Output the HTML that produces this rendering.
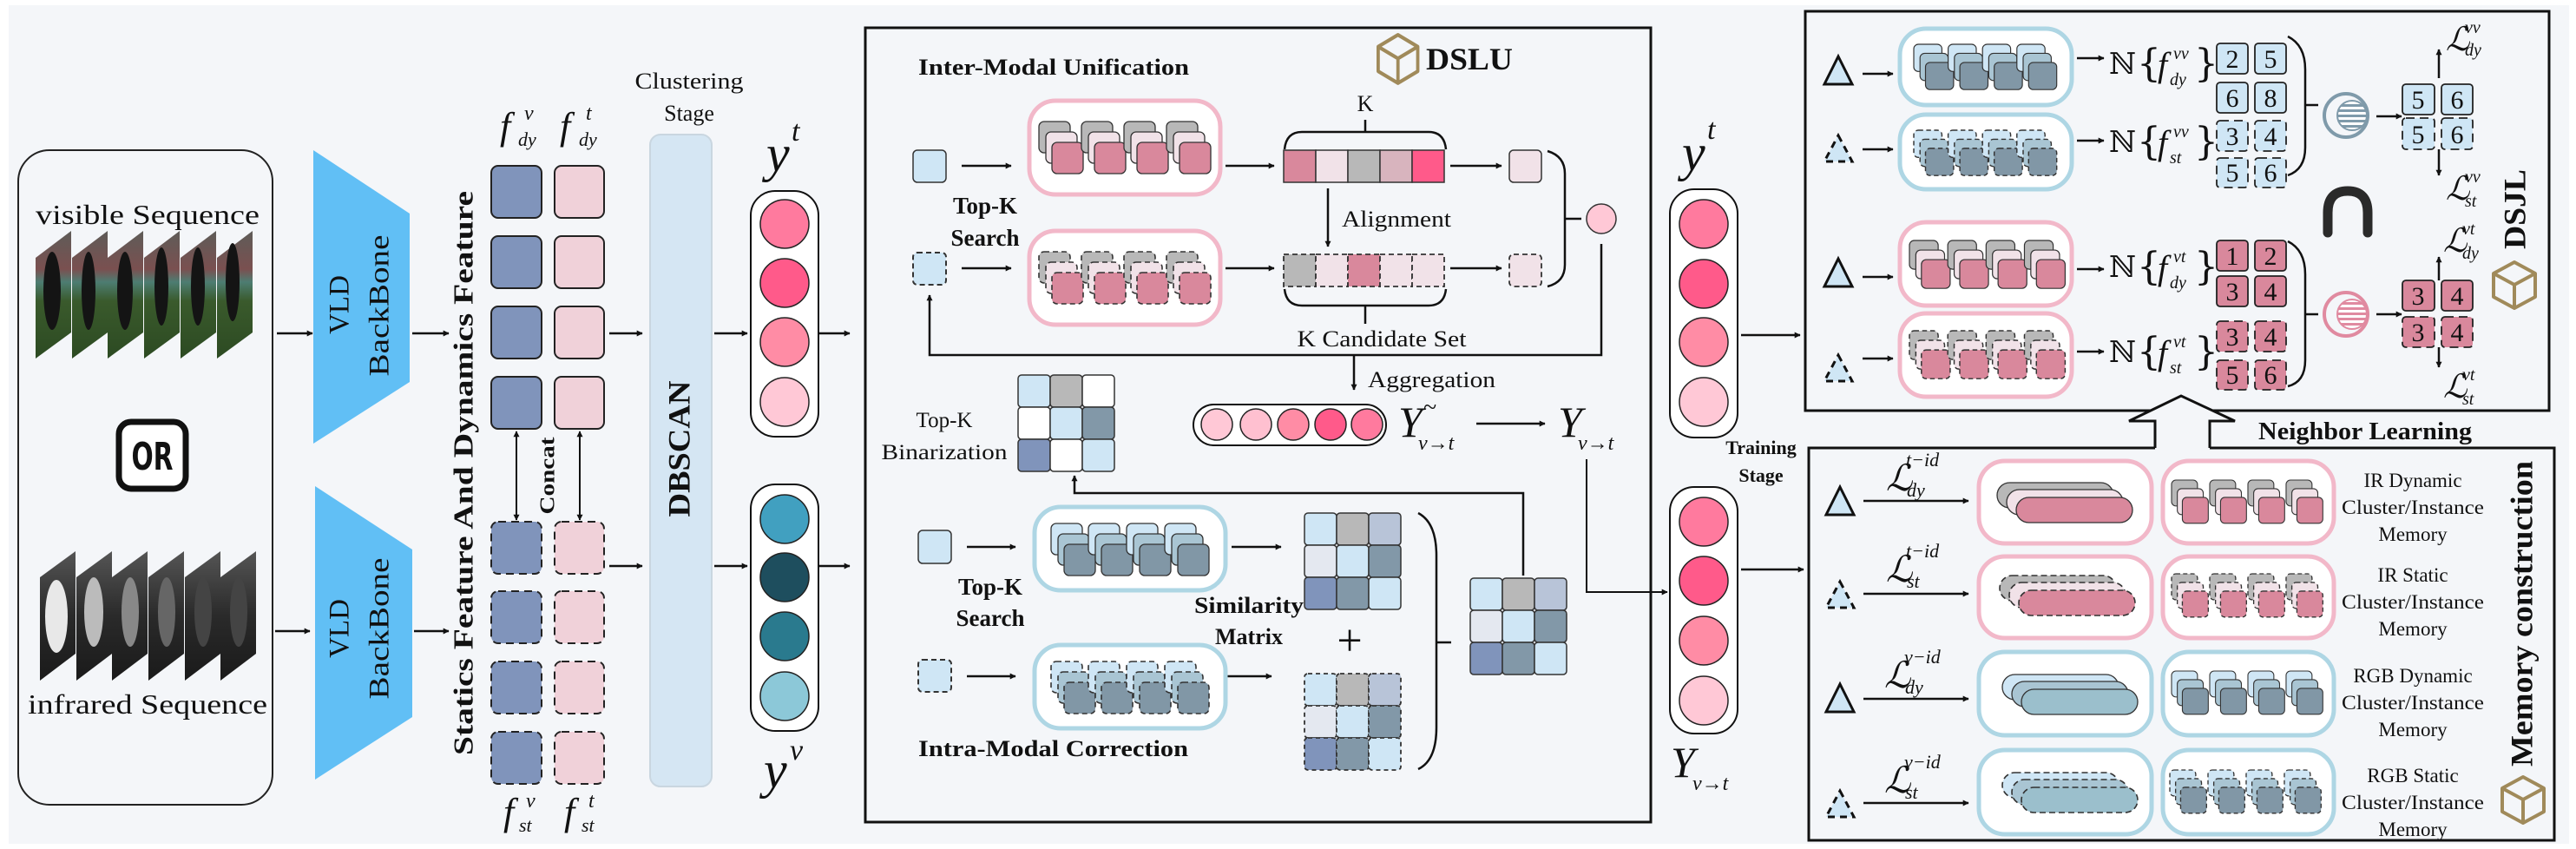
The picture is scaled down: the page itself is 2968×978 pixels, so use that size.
<!DOCTYPE html>
<html><head><meta charset="utf-8">
<style>
html,body{margin:0;padding:0;background:#f4f6f9;}
svg{display:block;}
text{font-family:"Liberation Serif","DejaVu Serif",serif;fill:#111;}
.b{font-weight:bold;}
.i{font-style:italic;}
.sym{font-family:"DejaVu Serif","Liberation Serif",serif;}
</style></head><body>
<svg width="2968" height="978" viewBox="0 0 2968 978" xmlns="http://www.w3.org/2000/svg">
<defs>
<marker id="ar" viewBox="0 0 10 10" refX="9" refY="5" markerWidth="7" markerHeight="7" orient="auto-start-reverse" markerUnits="userSpaceOnUse">
<path d="M0,0 L10,5 L0,10 z" fill="#111"/></marker>
<linearGradient id="gv" x1="0" y1="0" x2="0" y2="1"><stop offset="0" stop-color="#5e5c58"/><stop offset="0.3" stop-color="#7a5050"/><stop offset="0.4" stop-color="#4d7d72"/><stop offset="0.55" stop-color="#3a5a2c"/><stop offset="1" stop-color="#2c4a22"/></linearGradient>
<linearGradient id="gi" x1="0" y1="0" x2="0" y2="1"><stop offset="0" stop-color="#555"/><stop offset="0.5" stop-color="#2a2a2a"/><stop offset="1" stop-color="#1a1a1a"/></linearGradient>
<pattern id="stB" width="6" height="6" patternUnits="userSpaceOnUse"><rect width="6" height="6" fill="#fff"/><rect width="6" height="3" fill="#7f9aaa"/></pattern>
<pattern id="stP" width="6" height="6" patternUnits="userSpaceOnUse"><rect width="6" height="6" fill="#fff"/><rect width="6" height="3" fill="#e08aa0"/></pattern>
<g id="pg"><rect x="0" y="0" width="36" height="36" rx="6" fill="#b8b8b8" stroke="#333" stroke-width="1.3"/><rect x="8" y="12" width="36" height="36" rx="6" fill="#f1e2e8" stroke="#333" stroke-width="1.3"/><rect x="15" y="24" width="36" height="36" rx="6" fill="#d9889c" stroke="#333" stroke-width="1.3"/></g>
<g id="pgd" stroke-dasharray="6 4"><rect x="0" y="0" width="36" height="36" rx="6" fill="#b8b8b8" stroke="#333" stroke-width="1.6"/><rect x="8" y="12" width="36" height="36" rx="6" fill="#f1e2e8" stroke="#333" stroke-width="1.6"/><rect x="15" y="24" width="36" height="36" rx="6" fill="#d9889c" stroke="#333" stroke-width="1.6"/></g>
<g id="bgp"><rect x="0" y="0" width="36" height="36" rx="6" fill="#cfe6f5" stroke="#333" stroke-width="1.3"/><rect x="8" y="12" width="36" height="36" rx="6" fill="#a9c5d3" stroke="#333" stroke-width="1.3"/><rect x="15" y="24" width="36" height="36" rx="6" fill="#8197a6" stroke="#333" stroke-width="1.3"/></g>
<g id="bgd" stroke-dasharray="6 4"><rect x="0" y="0" width="36" height="36" rx="6" fill="#cfe6f5" stroke="#333" stroke-width="1.6"/><rect x="8" y="12" width="36" height="36" rx="6" fill="#a9c5d3" stroke="#333" stroke-width="1.6"/><rect x="15" y="24" width="36" height="36" rx="6" fill="#8197a6" stroke="#333" stroke-width="1.6"/></g>
<g id="ppl"><rect x="0" y="0" width="134" height="29" rx="14.5" fill="#b8b8b8" stroke="#333" stroke-width="1.3"/><rect x="11" y="8" width="134" height="29" rx="14.5" fill="#f1e2e8" stroke="#333" stroke-width="1.3"/><rect x="22" y="17" width="134" height="29" rx="14.5" fill="#d9889c" stroke="#333" stroke-width="1.3"/></g>
<g id="ppld" stroke-dasharray="7 4"><rect x="0" y="0" width="134" height="29" rx="14.5" fill="#b8b8b8" stroke="#333" stroke-width="1.6"/><rect x="11" y="8" width="134" height="29" rx="14.5" fill="#f1e2e8" stroke="#333" stroke-width="1.6"/><rect x="22" y="17" width="134" height="29" rx="14.5" fill="#d9889c" stroke="#333" stroke-width="1.6"/></g>
<g id="bpl"><rect x="0" y="0" width="134" height="29" rx="14.5" fill="#cfe6f5" stroke="#333" stroke-width="1.3"/><rect x="11" y="8" width="134" height="29" rx="14.5" fill="#a9c5d3" stroke="#333" stroke-width="1.3"/><rect x="22" y="17" width="134" height="29" rx="14.5" fill="#9bbfcc" stroke="#333" stroke-width="1.3"/></g>
<g id="bpld" stroke-dasharray="7 4"><rect x="0" y="0" width="134" height="29" rx="14.5" fill="#cfe6f5" stroke="#333" stroke-width="1.6"/><rect x="11" y="8" width="134" height="29" rx="14.5" fill="#a9c5d3" stroke="#333" stroke-width="1.6"/><rect x="22" y="17" width="134" height="29" rx="14.5" fill="#9bbfcc" stroke="#333" stroke-width="1.6"/></g>
<g id="tri"><path d="M16,0 L32,32 L0,32 Z" fill="#cfe6f5" stroke="#111" stroke-width="3"/></g>
<g id="trid"><path d="M16,0 L32,30 L0,30 Z" fill="#cfe6f5" stroke="#111" stroke-width="3" stroke-dasharray="8 6"/></g>
<g id="cube"><path d="M26,2 L50,15 L50,42 L26,55 L2,42 L2,15 Z M2,15 L26,28 L50,15 M26,28 L26,55" fill="none" stroke="#a08a5a" stroke-width="4" stroke-linejoin="round"/></g>
</defs>

<rect x="0" y="0" width="2968" height="978" fill="#fff"/>
<rect x="10" y="6" width="2950" height="966" fill="#f4f6f9"/>

<rect x="21" y="173" width="293" height="754" rx="36" fill="none" stroke="#222" stroke-width="2"/>
<text x="170" y="258" font-size="32" text-anchor="middle" textLength="258" lengthAdjust="spacingAndGlyphs">visible Sequence</text>
<g>
<path d="M41,297 L82,266 L82,383 L41,413 Z" fill="url(#gv)"/>
<path d="M83,297 L124,266 L124,383 L83,413 Z" fill="url(#gv)"/>
<path d="M124,297 L165,266 L165,383 L124,413 Z" fill="url(#gv)"/>
<path d="M166,297 L207,266 L207,383 L166,413 Z" fill="url(#gv)"/>
<path d="M208,297 L249,266 L249,383 L208,413 Z" fill="url(#gv)"/>
<path d="M250,297 L291,266 L291,383 L250,413 Z" fill="url(#gv)"/>
<g fill="#141414"><ellipse cx="60" cy="335" rx="10" ry="45"/><ellipse cx="102" cy="335" rx="8" ry="45"/><ellipse cx="144" cy="335" rx="9" ry="45"/><ellipse cx="186" cy="330" rx="8" ry="45"/><ellipse cx="228" cy="330" rx="8" ry="45"/><ellipse cx="268" cy="325" rx="8" ry="45"/></g>
</g>
<rect x="137" y="486" width="77" height="77" rx="14" fill="#fff" stroke="#111" stroke-width="7"/>
<text x="175.5" y="541" font-size="44" text-anchor="middle" class="b" style="font-family:'DejaVu Sans Condensed','DejaVu Sans',sans-serif" textLength="48" lengthAdjust="spacingAndGlyphs">OR</text>
<g>
<path d="M46,665 L87,635 L87,753 L46,784 Z" fill="url(#gi)"/>
<path d="M88,665 L129,635 L129,753 L88,784 Z" fill="url(#gi)"/>
<path d="M129,665 L170,635 L170,753 L129,784 Z" fill="url(#gi)"/>
<path d="M171,665 L212,635 L212,753 L171,784 Z" fill="url(#gi)"/>
<path d="M213,665 L254,635 L254,753 L213,784 Z" fill="url(#gi)"/>
<path d="M254,665 L295,635 L295,753 L254,784 Z" fill="url(#gi)"/>
<g><ellipse cx="65" cy="710" rx="13" ry="42" fill="#e8e8e8"/><ellipse cx="108" cy="705" rx="11" ry="40" fill="#bbb"/><ellipse cx="150" cy="705" rx="10" ry="40" fill="#888"/><ellipse cx="192" cy="705" rx="10" ry="40" fill="#666"/><ellipse cx="234" cy="705" rx="10" ry="40" fill="#444"/><ellipse cx="275" cy="705" rx="10" ry="40" fill="#444"/></g>
</g>
<text x="170" y="822" font-size="32" text-anchor="middle" textLength="276" lengthAdjust="spacingAndGlyphs">infrared Sequence</text>

<g stroke="#111" stroke-width="2.5" marker-end="url(#ar)">
<line x1="319" y1="384" x2="360" y2="384"/><line x1="317" y1="727" x2="357" y2="727"/>
<line x1="475" y1="384" x2="517" y2="384"/><line x1="477" y1="727" x2="517" y2="727"/>
<line x1="702" y1="384" x2="740" y2="384"/><line x1="702" y1="652" x2="740" y2="652"/>
<line x1="823" y1="384" x2="861" y2="384"/><line x1="823" y1="652" x2="861" y2="652"/>
<line x1="944" y1="384" x2="979" y2="384"/><line x1="944" y1="652" x2="979" y2="652"/>
</g>

<path d="M361,173 L472,246 L472,440 L361,511 Z" fill="#61bff5"/>
<path d="M363,560 L475,633 L475,826 L363,898 Z" fill="#61bff5"/>
<text transform="translate(394,351) rotate(-90)" font-size="33" text-anchor="middle" dominant-baseline="middle">VLD</text>
<text transform="translate(440,352) rotate(-90)" font-size="33" text-anchor="middle" dominant-baseline="middle" textLength="163" lengthAdjust="spacingAndGlyphs">BackBone</text>
<text transform="translate(394,724) rotate(-90)" font-size="33" text-anchor="middle" dominant-baseline="middle">VLD</text>
<text transform="translate(440,724) rotate(-90)" font-size="33" text-anchor="middle" dominant-baseline="middle" textLength="163" lengthAdjust="spacingAndGlyphs">BackBone</text>

<text transform="translate(537,545) rotate(-90)" font-size="32" class="b" text-anchor="middle" dominant-baseline="middle" textLength="650" lengthAdjust="spacingAndGlyphs">Statics Feature And Dynamics Feature</text>

<g stroke="#222" stroke-width="2">
<rect x="566" y="191" width="58" height="60" rx="8" fill="#8094bb"/>
<rect x="566" y="272" width="58" height="60" rx="8" fill="#8094bb"/>
<rect x="566" y="353" width="58" height="60" rx="8" fill="#8094bb"/>
<rect x="566" y="434" width="58" height="60" rx="8" fill="#8094bb"/>
<rect x="639" y="191" width="57" height="60" rx="8" fill="#f0d1d9"/>
<rect x="639" y="272" width="57" height="60" rx="8" fill="#f0d1d9"/>
<rect x="639" y="353" width="57" height="60" rx="8" fill="#f0d1d9"/>
<rect x="639" y="434" width="57" height="60" rx="8" fill="#f0d1d9"/>
</g>
<g stroke="#222" stroke-width="2" stroke-dasharray="9 6">
<rect x="566" y="601" width="58" height="60" rx="8" fill="#8094bb"/>
<rect x="566" y="681" width="58" height="60" rx="8" fill="#8094bb"/>
<rect x="566" y="762" width="58" height="60" rx="8" fill="#8094bb"/>
<rect x="566" y="843" width="58" height="60" rx="8" fill="#8094bb"/>
<rect x="639" y="601" width="57" height="60" rx="8" fill="#f0d1d9"/>
<rect x="639" y="681" width="57" height="60" rx="8" fill="#f0d1d9"/>
<rect x="639" y="762" width="57" height="60" rx="8" fill="#f0d1d9"/>
<rect x="639" y="843" width="57" height="60" rx="8" fill="#f0d1d9"/>
</g>
<g stroke="#111" stroke-width="2" marker-start="url(#ar)" marker-end="url(#ar)">
<line x1="595" y1="497" x2="595" y2="599"/><line x1="668" y1="497" x2="668" y2="599"/>
</g>
<text transform="translate(633,548) rotate(-90)" font-size="24" class="b" text-anchor="middle" dominant-baseline="middle" textLength="89" lengthAdjust="spacingAndGlyphs">Concat</text>
<text x="576" y="160" font-size="44" class="i">f</text><text x="604" y="138" font-size="24" class="i">v</text><text x="597" y="168" font-size="22" class="i">dy</text>
<text x="645" y="160" font-size="44" class="i">f</text><text x="675" y="138" font-size="24" class="i">t</text><text x="667" y="168" font-size="22" class="i">dy</text>
<text x="580" y="950" font-size="44" class="i">f</text><text x="606" y="930" font-size="24" class="i">v</text><text x="598" y="958" font-size="22" class="i">st</text>
<text x="650" y="950" font-size="44" class="i">f</text><text x="678" y="930" font-size="24" class="i">t</text><text x="670" y="958" font-size="22" class="i">st</text>

<text x="794" y="102" font-size="26" text-anchor="middle" textLength="125" lengthAdjust="spacingAndGlyphs">Clustering</text>
<text x="794" y="139" font-size="26" text-anchor="middle">Stage</text>
<rect x="749" y="155" width="71" height="751" rx="12" fill="#d5e6f3" stroke="#c9d6e0" stroke-width="2"/>
<text transform="translate(786,517) rotate(-90)" font-size="36" class="b" text-anchor="middle" dominant-baseline="middle" textLength="157" lengthAdjust="spacingAndGlyphs">DBSCAN</text>

<text x="883" y="197" font-size="60" class="i">y</text><text x="912" y="162" font-size="34" class="i">t</text>
<rect x="865" y="220" width="78" height="283" rx="28" fill="#fff" stroke="#111" stroke-width="2"/>
<g stroke="#222" stroke-width="1.5">
<circle cx="904" cy="258" r="28" fill="#ff7a9e"/><circle cx="904" cy="326" r="28" fill="#ff5a8a"/><circle cx="904" cy="394" r="28" fill="#ff8ca5"/><circle cx="904" cy="463" r="28" fill="#ffc8d6"/>
</g>
<rect x="865" y="558" width="78" height="284" rx="28" fill="#fff" stroke="#111" stroke-width="2"/>
<g stroke="#222" stroke-width="1.5">
<circle cx="904" cy="598" r="28" fill="#41a0c0"/><circle cx="904" cy="665" r="28" fill="#1e4e5e"/><circle cx="904" cy="733" r="28" fill="#2a7a8e"/><circle cx="904" cy="802" r="28" fill="#8cc8d8"/>
</g>
<text x="880" y="907" font-size="60" class="i">y</text><text x="910" y="875" font-size="34" class="i">v</text>

<rect x="997" y="32" width="905" height="915" fill="none" stroke="#111" stroke-width="3"/>
<text x="1058" y="86" font-size="26" class="b" textLength="312" lengthAdjust="spacingAndGlyphs">Inter-Modal  Unification</text>
<use href="#cube" transform="translate(1586,38) scale(0.95,1.05)"/>
<text x="1643" y="80" font-size="36" class="b" textLength="100" lengthAdjust="spacingAndGlyphs">DSLU</text>

<rect x="1052" y="173" width="38" height="37" rx="5" fill="#cfe6f5" stroke="#333" stroke-width="1.5"/>
<rect x="1052" y="291" width="38" height="37" rx="5" fill="#cfe6f5" stroke="#333" stroke-width="2" stroke-dasharray="6 4"/>
<text x="1135" y="246" font-size="27" class="b" text-anchor="middle">Top-K</text>
<text x="1135" y="283" font-size="27" class="b" text-anchor="middle">Search</text>
<rect x="1186" y="116" width="220" height="108" rx="30" fill="#fff" stroke="#f2b8c9" stroke-width="5"/>
<rect x="1186" y="266" width="220" height="108" rx="30" fill="#fff" stroke="#f2b8c9" stroke-width="5"/>
<use href="#pg" x="1197" y="140"/><use href="#pg" x="1246" y="140"/><use href="#pg" x="1295" y="140"/><use href="#pg" x="1344" y="140"/>
<use href="#pgd" x="1197" y="290"/><use href="#pgd" x="1246" y="290"/><use href="#pgd" x="1295" y="290"/><use href="#pgd" x="1344" y="290"/>

<g stroke="#111" stroke-width="2.5" marker-end="url(#ar)">
<line x1="1108" y1="191" x2="1165" y2="191"/><line x1="1108" y1="309" x2="1165" y2="309"/>
<line x1="1412" y1="191" x2="1468" y2="191"/><line x1="1412" y1="309" x2="1468" y2="309"/>
<line x1="1671" y1="191" x2="1730" y2="191"/><line x1="1671" y1="309" x2="1730" y2="309"/>
<line x1="1530" y1="217" x2="1530" y2="284"/>
<line x1="1114" y1="630" x2="1170" y2="630"/><line x1="1114" y1="779" x2="1170" y2="779"/>
<line x1="1419" y1="630" x2="1476" y2="630"/><line x1="1412" y1="779" x2="1465" y2="779"/>
<line x1="1701" y1="488" x2="1780" y2="488"/>
<line x1="1560" y1="409" x2="1560" y2="449"/>
</g>
<g stroke="#333" stroke-width="1.5">
<rect x="1479" y="173" width="37" height="37" fill="#d9889c"/><rect x="1516" y="173" width="37" height="37" fill="#f1e2e8"/><rect x="1553" y="173" width="37" height="37" fill="#b8b8b8"/><rect x="1590" y="173" width="37" height="37" fill="#d8b4be"/><rect x="1627" y="173" width="37" height="37" fill="#ff5a8a"/>
</g>
<g stroke="#333" stroke-width="1.8" stroke-dasharray="6 4">
<rect x="1479" y="293" width="37" height="37" fill="#b8b8b8"/><rect x="1516" y="293" width="37" height="37" fill="#f1e2e8"/><rect x="1553" y="293" width="37" height="37" fill="#d9889c"/><rect x="1590" y="293" width="37" height="37" fill="#f1e2e8"/><rect x="1627" y="293" width="37" height="37" fill="#f1e2e8"/>
</g>
<path d="M1480,172 Q1482,152 1500,152 L1646,152 Q1664,152 1666,172 M1573,152 L1573,138" fill="none" stroke="#111" stroke-width="2.5"/>
<text x="1573" y="128" font-size="26" text-anchor="middle">K</text>
<path d="M1480,333 Q1482,352 1500,352 L1646,352 Q1664,352 1666,333 M1573,352 L1573,373" fill="none" stroke="#111" stroke-width="2.5"/>
<text x="1546" y="261" font-size="26" textLength="126" lengthAdjust="spacingAndGlyphs">Alignment</text>
<text x="1592" y="399" font-size="26" text-anchor="middle" textLength="195" lengthAdjust="spacingAndGlyphs">K Candidate Set</text>
<rect x="1739" y="173" width="37" height="37" rx="5" fill="#f1e2e8" stroke="#333" stroke-width="1.5"/>
<rect x="1739" y="293" width="37" height="37" rx="5" fill="#f1e2e8" stroke="#333" stroke-width="1.8" stroke-dasharray="6 4"/>
<path d="M1783,174 Q1803,180 1803,200 L1803,305 Q1803,325 1783,330 M1803,252 L1822,252" fill="none" stroke="#111" stroke-width="2.5"/>
<circle cx="1845" cy="252" r="17" fill="#ffc8d6" stroke="#333" stroke-width="1.5"/>
<path d="M1845,281 L1845,409 L1071,409 L1071,340" fill="none" stroke="#111" stroke-width="2.5" marker-end="url(#ar)"/>
<text x="1576" y="446" font-size="26" textLength="147" lengthAdjust="spacingAndGlyphs">Aggregation</text>

<rect x="1375" y="466" width="222" height="47" rx="23.5" fill="#fff" stroke="#111" stroke-width="2"/>
<g stroke="#222" stroke-width="1.5"><circle cx="1402" cy="489" r="18" fill="#ffc8d6"/><circle cx="1447" cy="489" r="18" fill="#ffc0d0"/><circle cx="1490" cy="489" r="18" fill="#ff8ca5"/><circle cx="1533" cy="489" r="18" fill="#ff5a8a"/><circle cx="1575" cy="489" r="18" fill="#ff7a9e"/></g>
<text x="1611" y="503" font-size="50" class="i">Y</text><text x="1640" y="478" font-size="28">~</text><text x="1634" y="518" font-size="24" class="i">v→t</text>
<text x="1795" y="503" font-size="50" class="i">Y</text><text x="1818" y="518" font-size="24" class="i">v→t</text>
<path d="M1828,529 L1828,682 L1921,682" fill="none" stroke="#111" stroke-width="2" marker-end="url(#ar)"/>

<text x="1088" y="492" font-size="25" text-anchor="middle">Top-K</text>
<text x="1088" y="529" font-size="25" text-anchor="middle" textLength="145" lengthAdjust="spacingAndGlyphs">Binarization</text>
<g stroke="#333" stroke-width="1.5">
<rect x="1173" y="432" width="37" height="37" rx="4" fill="#cfe6f5"/><rect x="1210" y="432" width="37" height="37" rx="4" fill="#b8b8b8"/><rect x="1247" y="432" width="37" height="37" rx="4" fill="#fff"/>
<rect x="1173" y="469" width="37" height="37" rx="4" fill="#fff"/><rect x="1210" y="469" width="37" height="37" rx="4" fill="#cfe6f5"/><rect x="1247" y="469" width="37" height="37" rx="4" fill="#8298a8"/>
<rect x="1173" y="506" width="37" height="37" rx="4" fill="#8094bb"/><rect x="1210" y="506" width="37" height="37" rx="4" fill="#fff"/><rect x="1247" y="506" width="37" height="37" rx="4" fill="#cfe6f5"/>
</g>
<path d="M1755,663 L1755,568 L1238,568 L1238,548" fill="none" stroke="#111" stroke-width="2.5" marker-end="url(#ar)"/>

<rect x="1058" y="611" width="38" height="38" rx="5" fill="#cfe6f5" stroke="#333" stroke-width="1.5"/>
<rect x="1058" y="760" width="38" height="37" rx="5" fill="#cfe6f5" stroke="#333" stroke-width="2" stroke-dasharray="6 4"/>
<text x="1141" y="685" font-size="27" class="b" text-anchor="middle">Top-K</text>
<text x="1141" y="721" font-size="27" class="b" text-anchor="middle">Search</text>
<rect x="1192" y="584" width="220" height="96" rx="30" fill="#fff" stroke="#aed6e4" stroke-width="5"/>
<rect x="1192" y="743" width="220" height="96" rx="30" fill="#fff" stroke="#aed6e4" stroke-width="5"/>
<use href="#bgp" x="1211" y="603"/><use href="#bgp" x="1254" y="603"/><use href="#bgp" x="1298" y="603"/><use href="#bgp" x="1342" y="603"/>
<use href="#bgd" x="1211" y="762"/><use href="#bgd" x="1254" y="762"/><use href="#bgd" x="1298" y="762"/><use href="#bgd" x="1342" y="762"/>
<g stroke="#333" stroke-width="1.5">
<rect x="1503" y="591" width="37" height="37" rx="4" fill="#cfe6f5"/><rect x="1540" y="591" width="37" height="37" rx="4" fill="#b8b8b8"/><rect x="1577" y="591" width="37" height="37" rx="4" fill="#b8c4d8"/>
<rect x="1503" y="628" width="37" height="37" rx="4" fill="#e4e8f0"/><rect x="1540" y="628" width="37" height="37" rx="4" fill="#cfe6f5"/><rect x="1577" y="628" width="37" height="37" rx="4" fill="#8298a8"/>
<rect x="1503" y="665" width="37" height="37" rx="4" fill="#8094bb"/><rect x="1540" y="665" width="37" height="37" rx="4" fill="#8298a8"/><rect x="1577" y="665" width="37" height="37" rx="4" fill="#cfe6f5"/>
</g>
<g stroke="#333" stroke-width="1.8" stroke-dasharray="5 4">
<rect x="1503" y="776" width="37" height="37" rx="4" fill="#cfe6f5"/><rect x="1540" y="776" width="37" height="37" rx="4" fill="#b8b8b8"/><rect x="1577" y="776" width="37" height="37" rx="4" fill="#b8c4d8"/>
<rect x="1503" y="813" width="37" height="37" rx="4" fill="#e4e8f0"/><rect x="1540" y="813" width="37" height="37" rx="4" fill="#cfe6f5"/><rect x="1577" y="813" width="37" height="37" rx="4" fill="#8298a8"/>
<rect x="1503" y="850" width="37" height="37" rx="4" fill="#8094bb"/><rect x="1540" y="850" width="37" height="37" rx="4" fill="#8298a8"/><rect x="1577" y="850" width="37" height="37" rx="4" fill="#cfe6f5"/>
</g>
<text x="1439" y="706" font-size="26" class="b" text-anchor="middle" textLength="126" lengthAdjust="spacingAndGlyphs">Similarity</text>
<text x="1439" y="742" font-size="26" class="b" text-anchor="middle">Matrix</text>
<text x="1555" y="755" font-size="52" text-anchor="middle">+</text>
<path d="M1634,591 Q1655,602 1655,640 L1655,838 Q1655,876 1634,886 M1655,740 L1672,740" fill="none" stroke="#111" stroke-width="2.5"/>
<g stroke="#333" stroke-width="1.5">
<rect x="1694" y="666" width="37" height="37" rx="4" fill="#cfe6f5"/><rect x="1731" y="666" width="37" height="37" rx="4" fill="#b8b8b8"/><rect x="1768" y="666" width="37" height="37" rx="4" fill="#b8c4d8"/>
<rect x="1694" y="703" width="37" height="37" rx="4" fill="#e4e8f0"/><rect x="1731" y="703" width="37" height="37" rx="4" fill="#cfe6f5"/><rect x="1768" y="703" width="37" height="37" rx="4" fill="#8298a8"/>
<rect x="1694" y="740" width="37" height="37" rx="4" fill="#8094bb"/><rect x="1731" y="740" width="37" height="37" rx="4" fill="#8298a8"/><rect x="1768" y="740" width="37" height="37" rx="4" fill="#cfe6f5"/>
</g>
<text x="1058" y="871" font-size="26" class="b" textLength="311" lengthAdjust="spacingAndGlyphs">Intra-Modal  Correction</text>

<text x="1938" y="196" font-size="60" class="i">y</text><text x="1967" y="160" font-size="34" class="i">t</text>
<rect x="1924" y="218" width="78" height="286" rx="28" fill="#fff" stroke="#111" stroke-width="2"/>
<g stroke="#222" stroke-width="1.5">
<circle cx="1963" cy="258" r="28" fill="#ff7a9e"/><circle cx="1963" cy="327" r="28" fill="#ff5a8a"/><circle cx="1963" cy="394" r="28" fill="#ff8ca5"/><circle cx="1963" cy="463" r="28" fill="#ffc8d6"/>
</g>
<rect x="1924" y="561" width="78" height="284" rx="28" fill="#fff" stroke="#111" stroke-width="2"/>
<g stroke="#222" stroke-width="1.5">
<circle cx="1963" cy="601" r="28" fill="#ff7a9e"/><circle cx="1963" cy="669" r="28" fill="#ff5a8a"/><circle cx="1963" cy="738" r="28" fill="#ff8ca5"/><circle cx="1963" cy="807" r="28" fill="#ffc8d6"/>
</g>
<text x="1925" y="895" font-size="50" class="i">Y</text><text x="1950" y="910" font-size="24" class="i">v→t</text>
<text x="2029" y="523" font-size="22" class="b" text-anchor="middle">Training</text>
<text x="2029" y="555" font-size="22" class="b" text-anchor="middle">Stage</text>
<g stroke="#111" stroke-width="2.5" marker-end="url(#ar)">
<line x1="2006" y1="386" x2="2074" y2="386"/><line x1="2006" y1="656" x2="2078" y2="656"/>
</g>

<rect x="2080" y="13" width="857" height="460" fill="none" stroke="#111" stroke-width="3"/>
<use href="#tri" x="2102" y="65"/><use href="#trid" x="2102" y="156"/><use href="#tri" x="2102" y="298"/><use href="#trid" x="2102" y="409"/>
<g stroke="#111" stroke-width="2.5" marker-end="url(#ar)">
<line x1="2146" y1="85" x2="2181" y2="85"/><line x1="2146" y1="172" x2="2181" y2="172"/><line x1="2146" y1="319" x2="2181" y2="319"/><line x1="2146" y1="413" x2="2181" y2="413"/>
<line x1="2393" y1="67" x2="2424" y2="67"/><line x1="2393" y1="162" x2="2424" y2="162"/><line x1="2393" y1="310" x2="2424" y2="310"/><line x1="2393" y1="405" x2="2424" y2="405"/>
<line x1="2738" y1="134" x2="2767" y2="134"/><line x1="2738" y1="362" x2="2767" y2="362"/>
<line x1="2810" y1="90" x2="2810" y2="57"/><line x1="2810" y1="172" x2="2810" y2="202"/>
<line x1="2810" y1="323" x2="2810" y2="296"/><line x1="2810" y1="400" x2="2810" y2="423"/>
</g>
<rect x="2189" y="33" width="198" height="88" rx="30" fill="#fff" stroke="#aed6e4" stroke-width="5"/>
<rect x="2189" y="132" width="198" height="86" rx="30" fill="#fff" stroke="#aed6e4" stroke-width="5"/>
<rect x="2189" y="256" width="198" height="96" rx="30" fill="#fff" stroke="#f2b8c9" stroke-width="5"/>
<rect x="2189" y="361" width="198" height="96" rx="30" fill="#fff" stroke="#f2b8c9" stroke-width="5"/>
<g transform="translate(2205,51) scale(0.9,0.87)"><use href="#bgp" x="0"/><use href="#bgp" x="44"/><use href="#bgp" x="88"/><use href="#bgp" x="132"/></g>
<g transform="translate(2205,150) scale(0.9,0.87)"><use href="#bgd" x="0"/><use href="#bgd" x="44"/><use href="#bgd" x="88"/><use href="#bgd" x="132"/></g>
<g transform="translate(2200,277) scale(0.92,0.92)"><use href="#pg" x="0"/><use href="#pg" x="48"/><use href="#pg" x="96"/><use href="#pg" x="144"/></g>
<g transform="translate(2200,381) scale(0.92,0.92)"><use href="#pgd" x="0"/><use href="#pgd" x="48"/><use href="#pgd" x="96"/><use href="#pgd" x="144"/></g>
<g>
<text x="2430" y="85" font-size="34" class="sym">ℕ</text><text x="2462" y="88" font-size="44" class="sym">{</text><text x="2486" y="88" font-size="40" class="i">f</text><text x="2504" y="68" font-size="20" class="i">vv</text><text x="2500" y="98" font-size="20" class="i">dy</text><text x="2528" y="88" font-size="44" class="sym">}</text>
<text x="2430" y="175" font-size="34" class="sym">ℕ</text><text x="2462" y="178" font-size="44" class="sym">{</text><text x="2486" y="178" font-size="40" class="i">f</text><text x="2504" y="158" font-size="20" class="i">vv</text><text x="2500" y="188" font-size="20" class="i">st</text><text x="2528" y="178" font-size="44" class="sym">}</text>
<text x="2430" y="319" font-size="34" class="sym">ℕ</text><text x="2462" y="322" font-size="44" class="sym">{</text><text x="2486" y="322" font-size="40" class="i">f</text><text x="2504" y="302" font-size="20" class="i">vt</text><text x="2500" y="332" font-size="20" class="i">dy</text><text x="2528" y="322" font-size="44" class="sym">}</text>
<text x="2430" y="417" font-size="34" class="sym">ℕ</text><text x="2462" y="420" font-size="44" class="sym">{</text><text x="2486" y="420" font-size="40" class="i">f</text><text x="2504" y="400" font-size="20" class="i">vt</text><text x="2500" y="430" font-size="20" class="i">st</text><text x="2528" y="420" font-size="44" class="sym">}</text>
</g>
<g stroke="#222" stroke-width="1.8" font-size="30">
<rect x="2554" y="50" width="36" height="35" rx="4" fill="#cfe6f5"/><rect x="2598" y="50" width="36" height="35" rx="4" fill="#cfe6f5"/>
<rect x="2554" y="95" width="36" height="35" rx="4" fill="#cfe6f5"/><rect x="2598" y="95" width="36" height="35" rx="4" fill="#cfe6f5"/>
<rect x="2554" y="139" width="36" height="35" rx="4" fill="#cfe6f5" stroke-dasharray="10 6"/><rect x="2598" y="139" width="36" height="35" rx="4" fill="#cfe6f5" stroke-dasharray="10 6"/>
<rect x="2554" y="182" width="36" height="34" rx="4" fill="#cfe6f5" stroke-dasharray="10 6"/><rect x="2598" y="182" width="36" height="34" rx="4" fill="#cfe6f5" stroke-dasharray="10 6"/>
<rect x="2554" y="277" width="36" height="35" rx="4" fill="#d9889c"/><rect x="2598" y="277" width="36" height="35" rx="4" fill="#d9889c"/>
<rect x="2554" y="318" width="36" height="35" rx="4" fill="#d9889c"/><rect x="2598" y="318" width="36" height="35" rx="4" fill="#d9889c"/>
<rect x="2554" y="370" width="36" height="35" rx="4" fill="#d9889c" stroke-dasharray="10 6"/><rect x="2598" y="370" width="36" height="35" rx="4" fill="#d9889c" stroke-dasharray="10 6"/>
<rect x="2554" y="415" width="36" height="34" rx="4" fill="#d9889c" stroke-dasharray="10 6"/><rect x="2598" y="415" width="36" height="34" rx="4" fill="#d9889c" stroke-dasharray="10 6"/>
<rect x="2768" y="97" width="37" height="35" rx="4" fill="#cfe6f5"/><rect x="2813" y="97" width="36" height="35" rx="4" fill="#cfe6f5"/>
<rect x="2768" y="136" width="37" height="36" rx="4" fill="#cfe6f5" stroke-dasharray="10 6"/><rect x="2813" y="136" width="36" height="36" rx="4" fill="#cfe6f5" stroke-dasharray="10 6"/>
<rect x="2768" y="323" width="37" height="35" rx="4" fill="#d9889c"/><rect x="2813" y="323" width="36" height="35" rx="4" fill="#d9889c"/>
<rect x="2768" y="365" width="37" height="35" rx="4" fill="#d9889c" stroke-dasharray="10 6"/><rect x="2813" y="365" width="36" height="35" rx="4" fill="#d9889c" stroke-dasharray="10 6"/>
</g>
<g font-size="30" text-anchor="middle">
<text x="2572" y="78">2</text><text x="2616" y="78">5</text><text x="2572" y="123">6</text><text x="2616" y="123">8</text>
<text x="2572" y="167">3</text><text x="2616" y="167">4</text><text x="2572" y="209">5</text><text x="2616" y="209">6</text>
<text x="2572" y="305">1</text><text x="2616" y="305">2</text><text x="2572" y="346">3</text><text x="2616" y="346">4</text>
<text x="2572" y="398">3</text><text x="2616" y="398">4</text><text x="2572" y="442">5</text><text x="2616" y="442">6</text>
<text x="2786" y="125">5</text><text x="2831" y="125">6</text><text x="2786" y="165">5</text><text x="2831" y="165">6</text>
<text x="2786" y="351">3</text><text x="2831" y="351">4</text><text x="2786" y="393">3</text><text x="2831" y="393">4</text>
</g>
<path d="M2636,42 Q2656,52 2656,80 L2656,170 Q2656,195 2636,202 M2656,121 L2671,121" fill="none" stroke="#111" stroke-width="2.5"/>
<path d="M2636,278 Q2656,288 2656,316 L2656,415 Q2656,440 2636,445 M2656,362 L2671,362" fill="none" stroke="#111" stroke-width="2.5"/>
<circle cx="2703" cy="133" r="25" fill="none" stroke="#7f9aaa" stroke-width="4"/>
<circle cx="2710" cy="133" r="17" fill="url(#stB)" stroke="#7f9aaa" stroke-width="2"/>
<circle cx="2703" cy="362" r="25" fill="none" stroke="#e08aa0" stroke-width="4"/>
<circle cx="2710" cy="362" r="17" fill="url(#stP)" stroke="#e08aa0" stroke-width="2"/>
<path d="M2682,268 L2682,245 Q2682,220 2705,220 Q2728,220 2728,245 L2728,268" fill="none" stroke="#2a2a2a" stroke-width="11" stroke-linecap="round"/>
<g>
<text x="2818" y="58" font-size="38" class="sym i">ℒ</text><text x="2840" y="38" font-size="20" class="i">vv</text><text x="2840" y="64" font-size="20" class="i">dy</text>
<text x="2818" y="230" font-size="38" class="sym i">ℒ</text><text x="2840" y="210" font-size="20" class="i">vv</text><text x="2840" y="238" font-size="20" class="i">st</text>
<text x="2815" y="290" font-size="38" class="sym i">ℒ</text><text x="2837" y="270" font-size="20" class="i">vt</text><text x="2837" y="298" font-size="20" class="i">dy</text>
<text x="2815" y="458" font-size="38" class="sym i">ℒ</text><text x="2837" y="438" font-size="20" class="i">vt</text><text x="2837" y="466" font-size="20" class="i">st</text>
</g>
<text transform="translate(2901,241) rotate(-90)" font-size="36" class="b" text-anchor="middle" dominant-baseline="middle" textLength="92" lengthAdjust="spacingAndGlyphs">DSJL</text>
<use href="#cube" transform="translate(2871,300)"/>

<path d="M2483,516 L2483,485 L2453,485 L2513,456 L2575,485 L2546,485 L2546,516" fill="#f4f6f9" stroke="#111" stroke-width="3"/>
<text x="2602" y="506" font-size="28" class="b" textLength="246" lengthAdjust="spacingAndGlyphs">Neighbor Learning</text>

<path d="M2483,516 L2084,516 L2084,968 L2943,968 L2943,516 L2546,516" fill="none" stroke="#111" stroke-width="3"/>
<use href="#tri" x="2104" y="561"/><use href="#trid" x="2104" y="670"/><use href="#tri" x="2104" y="788"/><use href="#trid" x="2104" y="911"/>
<g stroke="#111" stroke-width="2.5" marker-end="url(#ar)">
<line x1="2147" y1="577" x2="2268" y2="577"/><line x1="2147" y1="684" x2="2268" y2="684"/><line x1="2147" y1="805" x2="2268" y2="805"/><line x1="2147" y1="925" x2="2268" y2="925"/>
</g>
<g>
<text x="2173" y="565" font-size="42" class="sym i">ℒ</text><text x="2196" y="537" font-size="22" class="i">t−id</text><text x="2197" y="572" font-size="22" class="i">dy</text>
<text x="2173" y="670" font-size="42" class="sym i">ℒ</text><text x="2196" y="642" font-size="22" class="i">t−id</text><text x="2197" y="677" font-size="22" class="i">st</text>
<text x="2171" y="792" font-size="42" class="sym i">ℒ</text><text x="2194" y="764" font-size="22" class="i">v−id</text><text x="2195" y="799" font-size="22" class="i">dy</text>
<text x="2171" y="913" font-size="42" class="sym i">ℒ</text><text x="2194" y="885" font-size="22" class="i">v−id</text><text x="2195" y="920" font-size="22" class="i">st</text>
</g>
<rect x="2280" y="531" width="199" height="95" rx="30" fill="#fff" stroke="#f2b8c9" stroke-width="5"/>
<rect x="2280" y="641" width="199" height="94" rx="30" fill="#fff" stroke="#f2b8c9" stroke-width="5"/>
<rect x="2280" y="751" width="199" height="96" rx="30" fill="#fff" stroke="#aed6e4" stroke-width="5"/>
<rect x="2280" y="864" width="199" height="97" rx="30" fill="#fff" stroke="#aed6e4" stroke-width="5"/>
<rect x="2492" y="531" width="197" height="95" rx="30" fill="#fff" stroke="#f2b8c9" stroke-width="5"/>
<rect x="2492" y="641" width="197" height="94" rx="30" fill="#fff" stroke="#f2b8c9" stroke-width="5"/>
<rect x="2492" y="751" width="197" height="96" rx="30" fill="#fff" stroke="#aed6e4" stroke-width="5"/>
<rect x="2492" y="864" width="197" height="97" rx="30" fill="#fff" stroke="#aed6e4" stroke-width="5"/>
<use href="#ppl" x="2301" y="556"/><use href="#ppld" x="2304" y="663"/><use href="#bpl" x="2307" y="777"/><use href="#bpld" x="2307" y="890"/>
<g transform="translate(2502,553) scale(0.83)"><use href="#pg" x="0"/><use href="#pg" x="53"/><use href="#pg" x="106"/><use href="#pg" x="159"/></g>
<g transform="translate(2502,661) scale(0.83)"><use href="#pgd" x="0"/><use href="#pgd" x="53"/><use href="#pgd" x="106"/><use href="#pgd" x="159"/></g>
<g transform="translate(2502,773) scale(0.83)"><use href="#bgp" x="0"/><use href="#bgp" x="53"/><use href="#bgp" x="106"/><use href="#bgp" x="159"/></g>
<g transform="translate(2500,887) scale(0.83)"><use href="#bgd" x="0"/><use href="#bgd" x="53"/><use href="#bgd" x="106"/><use href="#bgd" x="159"/></g>
<g font-size="23" text-anchor="middle">
<text x="2780" y="561">IR Dynamic</text><text x="2780" y="592" textLength="164" lengthAdjust="spacingAndGlyphs">Cluster/Instance</text><text x="2780" y="623">Memory</text>
<text x="2780" y="670">IR Static</text><text x="2780" y="701" textLength="164" lengthAdjust="spacingAndGlyphs">Cluster/Instance</text><text x="2780" y="732">Memory</text>
<text x="2780" y="786">RGB Dynamic</text><text x="2780" y="817" textLength="164" lengthAdjust="spacingAndGlyphs">Cluster/Instance</text><text x="2780" y="848">Memory</text>
<text x="2780" y="901">RGB Static</text><text x="2780" y="932" textLength="164" lengthAdjust="spacingAndGlyphs">Cluster/Instance</text><text x="2780" y="963">Memory</text>
</g>
<text transform="translate(2909,707) rotate(-90)" font-size="36" class="b" text-anchor="middle" dominant-baseline="middle" textLength="352" lengthAdjust="spacingAndGlyphs">Memory construction</text>
<use href="#cube" transform="translate(2881,893)"/>
</svg>
</body></html>
